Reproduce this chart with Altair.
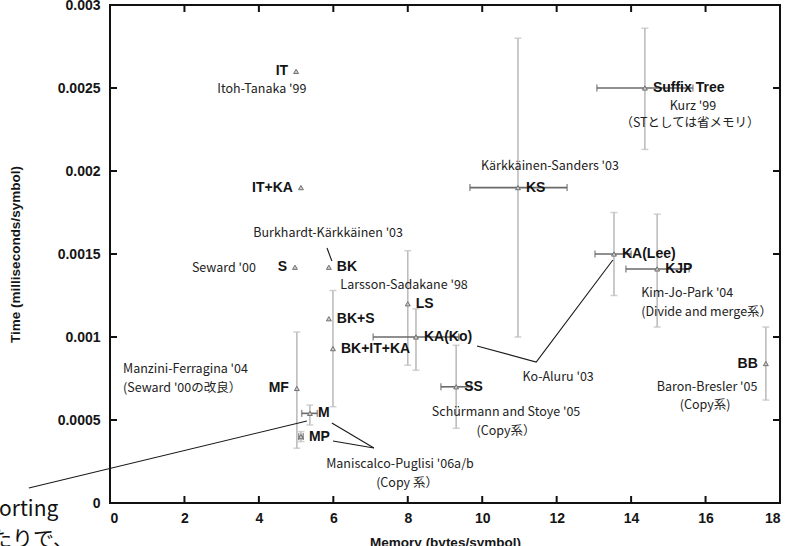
import altair as alt
import pandas as pd

# ---- data ----
names = ["Suffix Tree", "KS", "KA(Lee)", "KJP", "BB", "IT", "IT+KA", "S", "BK",
         "BK+S", "BK+IT+KA", "LS", "KA(Ko)", "SS", "MF", "M", "MP"]
mem = [14.37, 10.96, 13.54, 14.70, 17.62, 5.00, 5.13, 4.97, 5.88,
       5.88, 5.99, 8.00, 8.22, 9.30, 5.02, 5.37, 5.13]
tim = [0.00250, 0.00190, 0.00150, 0.00141, 0.00084, 0.00260, 0.00190, 0.00142, 0.00142,
       0.00111, 0.00093, 0.00120, 0.00100, 0.00070, 0.00069, 0.00054, 0.00040]
label_side = ["r", "r", "r", "r", "l", "l", "l", "l", "r",
              "r", "r", "r", "r", "r", "l", "r", "r"]

# horizontal error bars (memory)
xerr_names = ["Suffix Tree", "KS", "KA(Lee)", "KJP", "KA(Ko)", "SS", "M", "MP"]
xerr_lo = [13.08, 9.67, 13.03, 13.86, 7.07, 8.89, 5.15, 5.07]
xerr_hi = [15.66, 12.28, 14.00, 15.56, 9.37, 9.70, 5.57, 5.19]

# vertical error bars (time)
yerr_names = ["Suffix Tree", "KS", "KA(Lee)", "KJP", "BB", "LS", "KA(Ko)", "SS",
              "BK+IT+KA", "MF", "M", "MP"]
yerr_lo = [0.00213, 0.00100, 0.00125, 0.00106, 0.00062, 0.00083, 0.00080, 0.00045,
           0.00058, 0.00033, 0.00047, 0.00037]
yerr_hi = [0.00286, 0.00280, 0.00175, 0.00174, 0.00106, 0.00152, 0.00117, 0.00095,
           0.00128, 0.00103, 0.00059, 0.00043]

# annotation texts
ann_text = ["Itoh-Tanaka '99", "Burkhardt-Kärkkäinen '03", "Seward '00", "Kurz '99",
            "（STとしては省メモリ）", "Kärkkäinen-Sanders '03", "Larsson-Sadakane '98",
            "Ko-Aluru '03", "Baron-Bresler '05", "(Copy系)", "Schürmann and Stoye '05",
            "(Copy系）", "Maniscalco-Puglisi '06a/b", "(Copy 系）"]
ann_x = [4.08, 5.86, 3.06, 15.66, 15.58, 11.82, 7.90, 12.04, 16.04, 15.99, 10.64,
         10.64, 7.79, 7.98]
ann_y = [0.002494, 0.001627, 0.001416, 0.002392, 0.002289, 0.002030, 0.001313,
         0.000759, 0.000699, 0.000590, 0.000548, 0.000434, 0.000235, 0.000120]

annl_text = ["Kim-Jo-Park '04", "(Divide and merge系）", "Manzini-Ferragina '04",
             "(Seward '00の改良）"]
annl_x = [14.27, 14.27, 0.35, 0.35]
annl_y = [0.001265, 0.001151, 0.000807, 0.000693]

slide_text = ["orting", "たりで、"]
slide_x = [-2.98, -3.20]
slide_y = [-0.000040, -0.000225]

# connector lines
line_id = [1, 1, 2, 2, 2, 3, 3, 4, 4, 5, 5]
line_x = [5.83, 5.96, 9.86, 11.45, 13.51, 5.96, 7.09, 5.99, 7.09, -2.18, 5.29]
line_y = [0.001536, 0.001458, 0.000946, 0.000849, 0.001464, 0.000482, 0.000331,
          0.000373, 0.000331, 0.000090, 0.000494]

x_ticks = [0, 2, 4, 6, 8, 10, 12, 14, 16, 18]
y_ticks = [0, 0.0005, 0.001, 0.0015, 0.002, 0.0025, 0.003]

# ---- tables ----
pts = pd.DataFrame({"name": names, "mem": mem, "time": tim, "side": label_side})
xerr = pd.DataFrame({"name": xerr_names, "lo": xerr_lo, "hi": xerr_hi})
xerr = xerr.merge(pts[["name", "time"]], on="name")
yerr = pd.DataFrame({"name": yerr_names, "lo": yerr_lo, "hi": yerr_hi})
yerr = yerr.merge(pts[["name", "mem"]], on="name")
ann = pd.DataFrame({"t": ann_text, "x": ann_x, "y": ann_y})
annl = pd.DataFrame({"t": annl_text, "x": annl_x, "y": annl_y})
slide = pd.DataFrame({"t": slide_text, "x": slide_x, "y": slide_y})
lines = pd.DataFrame({"id": line_id, "x": line_x, "y": line_y,
                      "o": list(range(len(line_id)))})
xt = pd.DataFrame({"v": x_ticks})
yt = pd.DataFrame({"v": y_ticks})

W, H = 670, 498
xs = alt.Scale(domain=[0, 18], nice=False, zero=False)
ys = alt.Scale(domain=[0, 0.003], nice=False, zero=False)

LAB_FONT = "Liberation Sans"
ANN_FONT = "Noto Sans CJK JP"

xaxis = alt.Axis(values=x_ticks, format="~g", grid=False, ticks=False, domain=False,
                 labelFont=LAB_FONT, labelFontWeight="bold", labelFontSize=14,
                 labelColor="#151515", labelPadding=8,
                 title="Memory (bytes/symbol)", titleFont=LAB_FONT, titleFontSize=13.5,
                 titleFontWeight="bold", titleColor="#151515", titleY=32)
yaxis = alt.Axis(values=y_ticks, format="~g", grid=False, ticks=False, domain=False,
                 labelFont=LAB_FONT, labelFontWeight="bold", labelFontSize=14,
                 labelColor="#151515", labelPadding=10,
                 title="Time (milliseconds/symbol)", titleFont=LAB_FONT, titleFontSize=13.5,
                 titleFontWeight="bold", titleColor="#151515", titleX=-88, titleY=H / 2)

# vertical error bars
vbar = alt.Chart(yerr).mark_rule(color="#bdbdbd", strokeWidth=1.6).encode(
    x=alt.X("mem:Q", scale=xs, axis=xaxis),
    y=alt.Y("lo:Q", scale=ys, axis=yaxis),
    y2="hi:Q")
vcap_lo = alt.Chart(yerr).mark_tick(color="#bdbdbd", orient="horizontal", size=7,
                                    thickness=1.5).encode(
    x=alt.X("mem:Q", scale=xs), y=alt.Y("lo:Q", scale=ys))
vcap_hi = alt.Chart(yerr).mark_tick(color="#bdbdbd", orient="horizontal", size=7,
                                    thickness=1.5).encode(
    x=alt.X("mem:Q", scale=xs), y=alt.Y("hi:Q", scale=ys))

# horizontal error bars
hbar = alt.Chart(xerr).mark_rule(color="#6a6a6a", strokeWidth=1.6).encode(
    x=alt.X("lo:Q", scale=xs), x2="hi:Q", y=alt.Y("time:Q", scale=ys))
hcap_lo = alt.Chart(xerr).mark_tick(color="#6a6a6a", orient="vertical", size=7,
                                    thickness=1.5).encode(
    x=alt.X("lo:Q", scale=xs), y=alt.Y("time:Q", scale=ys))
hcap_hi = alt.Chart(xerr).mark_tick(color="#6a6a6a", orient="vertical", size=7,
                                    thickness=1.5).encode(
    x=alt.X("hi:Q", scale=xs), y=alt.Y("time:Q", scale=ys))

# connectors
conn = alt.Chart(lines).mark_line(color="#1a1a1a", strokeWidth=1.1).encode(
    x=alt.X("x:Q", scale=xs), y=alt.Y("y:Q", scale=ys),
    detail="id:N", order="o:Q")

# markers
marks = alt.Chart(pts).mark_point(shape="triangle-up", size=24, filled=True,
                                  color="#cccccc", stroke="#707070",
                                  strokeWidth=1, opacity=1).encode(
    x=alt.X("mem:Q", scale=xs), y=alt.Y("time:Q", scale=ys))

lab_r = alt.Chart(pts).transform_filter(alt.datum.side == "r").mark_text(
    align="left", baseline="middle", dx=8, font=LAB_FONT, fontSize=14,
    fontWeight="bold", color="#141414").encode(
    x=alt.X("mem:Q", scale=xs), y=alt.Y("time:Q", scale=ys), text="name:N")
lab_l = alt.Chart(pts).transform_filter(alt.datum.side == "l").mark_text(
    align="right", baseline="middle", dx=-8, font=LAB_FONT, fontSize=14,
    fontWeight="bold", color="#141414").encode(
    x=alt.X("mem:Q", scale=xs), y=alt.Y("time:Q", scale=ys), text="name:N")

ann_c = alt.Chart(ann).mark_text(align="center", baseline="middle", font=ANN_FONT,
                                 fontSize=12.5, color="#222").encode(
    x=alt.X("x:Q", scale=xs), y=alt.Y("y:Q", scale=ys), text="t:N")
ann_lft = alt.Chart(annl).mark_text(align="left", baseline="middle", font=ANN_FONT,
                                    fontSize=12.5, color="#222").encode(
    x=alt.X("x:Q", scale=xs), y=alt.Y("y:Q", scale=ys), text="t:N")
slide_t = alt.Chart(slide).mark_text(align="left", baseline="middle", font=ANN_FONT,
                                     fontSize=21, color="#111").encode(
    x=alt.X("x:Q", scale=xs), y=alt.Y("y:Q", scale=ys), text="t:N")

# inward ticks on all four sides
tk_l = alt.Chart(yt).mark_rule(color="#111", strokeWidth=2).encode(
    y=alt.Y("v:Q", scale=ys), x=alt.value(0), x2=alt.value(7))
tk_r = alt.Chart(yt).mark_rule(color="#111", strokeWidth=2).encode(
    y=alt.Y("v:Q", scale=ys), x=alt.value(W - 7), x2=alt.value(W))
tk_b = alt.Chart(xt).mark_rule(color="#111", strokeWidth=2).encode(
    x=alt.X("v:Q", scale=xs), y=alt.value(H - 7), y2=alt.value(H))
tk_t = alt.Chart(xt).mark_rule(color="#111", strokeWidth=2).encode(
    x=alt.X("v:Q", scale=xs), y=alt.value(0), y2=alt.value(7))

chart = alt.layer(
    vbar, vcap_lo, vcap_hi, hbar, hcap_lo, hcap_hi, conn, tk_l, tk_r, tk_b, tk_t,
    marks, lab_r, lab_l, ann_c, ann_lft, slide_t,
).properties(
    width=W, height=H,
    autosize=alt.AutoSizeParams(type="none"),
    padding={"left": 110, "top": 5, "right": 18, "bottom": 43},
    background="white",
).configure_view(stroke="#111", strokeWidth=2)

chart.save("out.html", embed_options={"renderer": "svg", "actions": False})
